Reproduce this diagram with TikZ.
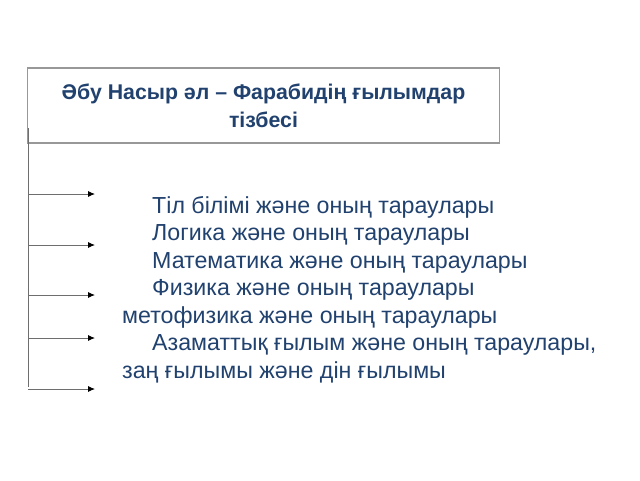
\documentclass[tikz,border=0pt]{standalone}
\usepackage{fontspec}
\setmainfont{Liberation Sans}
\usetikzlibrary{arrows.meta,positioning}
\definecolor{textblue}{HTML}{21426F}
\definecolor{framegray}{HTML}{989898}
\definecolor{linegray}{HTML}{6E6E6E}
\begin{document}
\begin{tikzpicture}[x=1pt, y=-1pt,
    titlebox/.style={draw=framegray, line width=1.5pt, minimum width=472pt, minimum height=75pt,
      inner sep=0pt, align=center, text=textblue, font=\bfseries\fontsize{21.3}{28}\selectfont},
    item/.style={anchor=base west, inner sep=0pt, text=textblue, font=\fontsize{23.2}{27}\selectfont},
    branch/.style={draw=linegray, line width=0.9pt, -{Latex[length=7pt,width=6pt,color=black]}}]
    \useasboundingbox (0,0) rectangle (640,480);
    \fill[white] (0,0) rectangle (640,480);

    % Title box
    \node[titlebox] (title) at (263.5,105.5) {Әбу Насыр әл – Фарабидің ғылымдар\\тізбесі};

    % Trunk and branches
    \coordinate (top) at (28,128);
    \coordinate (bottom) at (28,387);
    \draw[draw=linegray, line width=0.9pt] (top) -- (bottom);
    \foreach \y [count=\i] in {194,245,295,338,389} {
        \coordinate (s\i) at (28,\y);
        \coordinate (e\i) at (95,\y);
        \draw[branch] (s\i) -- (e\i);
    }

    % Branch texts
    \node[item] (l1) at (152,213) {Тіл білімі және оның тараулары};
    \node[item] (l2) at (152,240.5) {Логика және оның тараулары};
    \node[item] (l3) at (152,268) {Математика және оның тараулары};
    \node[item] (l4) at (152,295.5) {Физика және оның тараулары};
    \node[item] (l5) at (122,323) {метофизика және оның тараулары};
    \node[item] (l6) at (152,350.5) {Азаматтық ғылым және оның тараулары,};
    \node[item] (l7) at (122,378) {заң ғылымы және дін ғылымы};
\end{tikzpicture}
\end{document}
